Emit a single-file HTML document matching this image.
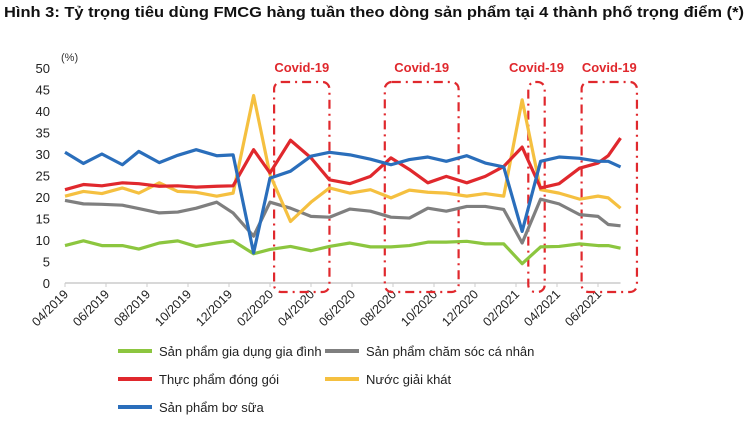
<!DOCTYPE html>
<html><head><meta charset="utf-8"><style>
html,body{margin:0;padding:0;background:#fff;width:748px;height:437px;overflow:hidden}
svg{display:block;font-family:"Liberation Sans",sans-serif}
</style></head><body>
<svg id="chart" width="748" height="437" viewBox="0 0 748 437">
<text x="4" y="17" font-size="15" font-weight="bold" fill="#111" textLength="740" lengthAdjust="spacingAndGlyphs">Hình 3: Tỷ trọng tiêu dùng FMCG hàng tuần theo dòng sản phẩm tại 4 thành phố trọng điểm (*)</text>
<text x="61" y="61" font-size="11" fill="#333">(%)</text>
<g id="yaxis"></g>
<g id="xaxis"></g>
<g id="boxes"></g>
<g id="series"></g>
<g id="legend"></g>
</svg>
<script>
const months = [0,0.9,1.8,2.8,3.6,4.6,5.5,6.4,7.4,8.2,9.2,10,11,12,12.9,13.9,14.9,15.9,16.8,17.7,18.6,19.6,20.5,21.4,22.3,23.2,24.1,25.1,26,26.5,27.1];
const tickLabels = ["04/2019","06/2019","08/2019","10/2019","12/2019","02/2020","04/2020","06/2020","08/2020","10/2020","12/2020","02/2021","04/2021","06/2021"];
const yTicks = [0,5,10,15,20,25,30,35,40,45,50];
const seriesNames = ["Sản phẩm gia dụng gia đình","Sản phẩm chăm sóc cá nhân","Thực phẩm đóng gói","Nước giải khát","Sản phẩm bơ sữa"];
const green = [8.7,9.8,8.7,8.7,7.9,9.3,9.8,8.5,9.3,9.8,6.8,7.8,8.5,7.5,8.5,9.3,8.4,8.4,8.7,9.5,9.5,9.7,9.1,9.1,4.5,8.4,8.5,9.1,8.7,8.7,8.1];
const grey = [19.2,18.4,18.3,18.1,17.3,16.3,16.5,17.4,18.8,16.3,10.9,18.8,17.4,15.5,15.3,17.2,16.7,15.3,15.1,17.4,16.7,17.8,17.8,17.1,9.3,19.5,18.4,15.9,15.5,13.6,13.3];
const red = [21.7,22.9,22.6,23.3,23.1,22.5,22.6,22.3,22.5,22.6,31,25.6,33.2,29.1,24,23.1,24.8,29.1,26.4,23.3,24.8,23.3,24.8,27.1,31.6,22.1,23.1,26.7,27.9,29.6,33.7];
const yellow = [20.2,21.3,20.8,22.1,20.9,23.3,21.3,21.1,20.2,20.9,43.6,25.2,14.3,18.8,22.1,20.9,21.7,19.8,21.6,21.1,20.9,20.2,20.8,20.2,42.6,21.7,20.9,19.5,20.2,19.8,17.4];
const blue = [30.4,27.8,30,27.5,30.6,28,29.7,31,29.6,29.8,7,24.4,26,29.5,30.4,29.8,28.8,27.5,28.7,29.3,28.3,29.6,27.9,27,12,28.3,29.3,29,28.3,28.3,27];
const covidStart = [10.2,15.6,22.6,25.2];
const covidEnd = [12.9,19.2,23.4,27.9];

const NS="http://www.w3.org/2000/svg";
const X0=65, PXM=20.5, Y0=283, PXV=4.3;
const xs=m=>X0+m*PXM, ys=v=>Y0-v*PXV;
function mk(tag,attrs,parent,txt){const e=document.createElementNS(NS,tag);for(const k in attrs)e.setAttribute(k,attrs[k]);if(txt!==undefined)e.textContent=txt;parent.appendChild(e);return e;}

const ya=document.getElementById('yaxis');
yTicks.forEach(v=>{
  const t=mk('text',{x:50,y:ys(v)+5,'font-size':13,'text-anchor':'end',fill:'#222'},ya,String(v));
  
  
});
const xa=document.getElementById('xaxis');
const ax=mk('line',{x1:X0,y1:Y0,x2:xs(months[months.length-1]),y2:Y0,stroke:'#ccc','stroke-width':1.5},xa);


tickLabels.forEach((l,i)=>{
  const x=xs(i*2);
  const tk=mk('line',{x1:x,y1:Y0,x2:x,y2:Y0+4,stroke:'#ccc','stroke-width':1},xa);
  
  
  const t=mk('text',{x:x+4,y:Y0+12,'font-size':12.5,'text-anchor':'end',fill:'#222',transform:`rotate(-45 ${x+4} ${Y0+12})`},xa,l);
  
  
});

const bx=document.getElementById('boxes');
covidStart.forEach((s,i)=>{
  const x1=xs(s),x2=xs(covidEnd[i]);
  const r=mk('rect',{x:x1,y:82,width:x2-x1,height:210,rx:7,fill:'none',stroke:'#e0282d','stroke-width':2.2,'stroke-dasharray':'9 5 2 5'},bx);
  
  
  const t=mk('text',{x:(x1+x2)/2,y:72,'font-size':13,'font-weight':'bold','text-anchor':'middle',fill:'#e0282d'},bx,'Covid-19');
  
  
});

const sg=document.getElementById('series');
const all=[[green,'#8cc63f'],[grey,'#7f7f7f'],[red,'#e0282d'],[yellow,'#f5c040'],[blue,'#2a6ebb']];
const order=[1,0,3,2,4];
order.forEach(i=>{
  const [d,c]=all[i];
  const p=mk('polyline',{points:d.map((v,j)=>xs(months[j])+','+ys(v)).join(' '),fill:'none',stroke:c,'stroke-width':3.2,'stroke-linejoin':'round'},sg);
  
  
});

const lg=document.getElementById('legend');
const pos=[[118,351],[325,351],[118,379],[325,379],[118,407]];
seriesNames.forEach((n,i)=>{
  const [x,y]=pos[i];
  const l=mk('line',{x1:x,y1:y,x2:x+34,y2:y,stroke:all[i][1],'stroke-width':4},lg);
  
  
  const t=mk('text',{x:x+41,y:y+5,'font-size':13,fill:'#222'},lg,n);
  
  
});
</script>
</body></html>
